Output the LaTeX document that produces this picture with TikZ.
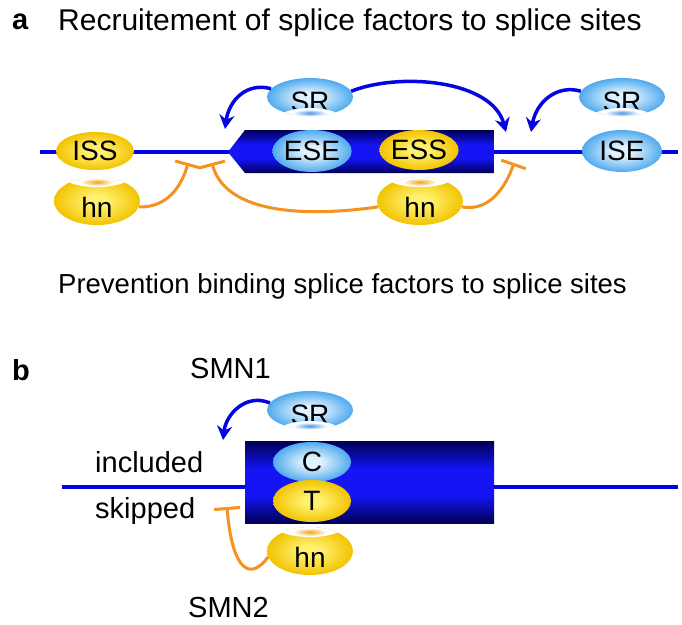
\documentclass[tikz,border=0pt]{standalone}
\usepackage{fontspec}
\setmainfont{Liberation Sans}
\usetikzlibrary{shapes.geometric,arrows.meta}
\definecolor{dnablue}{RGB}{5,5,225}
\definecolor{exnavy}{RGB}{0,0,85}
\definecolor{exbright}{RGB}{20,20,245}
\definecolor{inhorange}{RGB}{245,145,30}
\definecolor{yelin}{RGB}{255,240,110}
\definecolor{yelout}{RGB}{242,195,0}
\definecolor{bluin}{RGB}{225,242,255}
\definecolor{bluout}{RGB}{80,170,238}
\definecolor{orglowc}{RGB}{240,165,20}
\definecolor{bluglowc}{RGB}{70,150,235}
\pgfdeclareradialshading{yelshade}{\pgfpoint{0bp}{0bp}}{color(0bp)=(yelin); color(6bp)=(yelin); color(25bp)=(yelout); color(50bp)=(yelout)}
\pgfdeclareradialshading{blushade}{\pgfpoint{0bp}{0bp}}{color(0bp)=(bluin); color(6bp)=(bluin); color(25bp)=(bluout); color(50bp)=(bluout)}
\pgfdeclareradialshading{orglow}{\pgfpoint{0bp}{0bp}}{color(0bp)=(orglowc); color(25bp)=(white); color(50bp)=(white)}
\pgfdeclareradialshading{bluglow}{\pgfpoint{0bp}{0bp}}{color(0bp)=(bluglowc); color(25bp)=(white); color(50bp)=(white)}
\pgfdeclareverticalshading{exonshade}{100bp}{color(0bp)=(exnavy); color(25bp)=(exnavy); color(42bp)=(exbright); color(58bp)=(exbright); color(75bp)=(exnavy); color(100bp)=(exnavy)}

\newcommand\hnprot[3]{%
  \node[ellipse, shade, shading=yelshade, minimum width=86pt, minimum height=48pt] (#1) at (#2,#3) {};
  \begin{scope}
    \clip (#2,#3) ellipse [x radius=43pt, y radius=24pt];
    \fill[white] (#2,#3-24) ellipse [x radius=33pt, y radius=10pt];
  \end{scope}
  \shade[shading=orglow] (#2,#3-19) ellipse [x radius=17pt, y radius=4pt];
  \node (#1t) at (#2,#3+6) {hn};
}
\newcommand\srprot[3]{%
  \node[ellipse, shade, shading=blushade, minimum width=86pt, minimum height=38pt] (#1) at (#2,#3) {};
  \node (#1t) at (#2,#3+5) {SR};
  \begin{scope}
    \clip (#2,#3) ellipse [x radius=43pt, y radius=19pt];
    \fill[white] (#2,#3+22) ellipse [x radius=32pt, y radius=11pt];
  \end{scope}
  \shade[shading=bluglow] (#2,#3+16) ellipse [x radius=17pt, y radius=3.5pt];
}

\begin{document}
\begin{tikzpicture}[x=1pt,y=-1pt,
  every node/.style={font=\fontsize{28}{32}\selectfont, inner sep=0pt},
  dna/.style={dnablue, line width=3.5pt},
  recruit/.style={dnablue, line width=3.5pt, -{Stealth[length=14pt,width=15pt]}},
  inhibit/.style={inhorange, line width=3pt, -{Bar[width=26pt]}},
  yelell/.style={ellipse, shade, shading=yelshade},
  bluell/.style={ellipse, shade, shading=blushade}]
\useasboundingbox (0,0) rectangle (682,624);

% ---------- part a ----------
\node[anchor=base west, font=\bfseries\fontsize{29}{32}\selectfont] (la) at (12,29) {a};
\node[anchor=base west, font=\fontsize{30}{34}\selectfont] (ta) at (58,30) {Recruitement of splice factors to splice sites};

\coordinate (a0) at (40,152);
\coordinate (a1) at (678,152);
\draw[dna] (a0) -- (a1);
\shade[shading=exonshade] (228,152) -- (245,130) -- (494,130) -- (494,173) -- (245,173) -- cycle;

\node[yelell, minimum width=78pt, minimum height=38pt] (ISS) at (95,151) {ISS};
\node[bluell, minimum width=78pt, minimum height=42pt] (ESE) at (312,151) {ESE};
\node[yelell, minimum width=78pt, minimum height=40pt] (ESS) at (419,150) {ESS};
\node[bluell, minimum width=80pt, minimum height=42pt] (ISE) at (622,151) {ISE};

\srprot{SRa}{310}{97}
\srprot{SRc}{622}{97}
\hnprot{hnA}{97}{201}
\hnprot{hnB}{420}{201}

\coordinate (tipL) at (225,129);
\coordinate (tipR) at (506,132);
\coordinate (tipR2) at (531,132);
\draw[recruit] (SRa.168) .. controls (247,82) and (229,100) .. (tipL);
\draw[recruit] (SRa.8) .. controls (400,72) and (492,80) .. (tipR);
\draw[recruit] (SRc.172) .. controls (556,84) and (536,103) .. (tipR2);

\coordinate (barL) at (188,163);
\coordinate (barR) at (212,163);
\coordinate (barE) at (514,163);
\draw[inhibit] (hnA.-8) .. controls (168,208) and (182,185) .. (barL);
\draw[inhibit] (hnB.188) .. controls (300,218) and (225,212) .. (barR);
\draw[inhibit] (hnB.-8) .. controls (490,212) and (506,186) .. (barE);

\node[anchor=base west, font=\fontsize{27.5}{32}\selectfont] (tp) at (58,293) {Prevention binding splice factors to splice sites};

% ---------- part b ----------
\node[anchor=base west, font=\bfseries\fontsize{29}{32}\selectfont] (lb) at (12,380) {b};
\node[anchor=base west, font=\fontsize{29}{32}\selectfont] (smn1) at (190,378) {SMN1};

\coordinate (b0) at (62,487);
\coordinate (b1) at (678,487);
\draw[dna] (b0) -- (b1);
\node[shade, shading=exonshade, minimum width=249pt, minimum height=82pt, anchor=north west] (exB) at (245,441) {};

\srprot{SRd}{310}{410}
\node[bluell, minimum width=78pt, minimum height=40pt] (C) at (312,462) {C};
\node[yelell, minimum width=78pt, minimum height=42pt] (T) at (312,501) {T};
\hnprot{hnD}{310}{551}

\coordinate (tipB) at (223,440);
\draw[recruit] (SRd.170) .. controls (246,393) and (226,414) .. (tipB);
\coordinate (barB) at (227,507);
\draw[inhibit] (hnD.188) .. controls (250,582) and (232,570) .. (barB);

\node[anchor=base west, font=\fontsize{29}{32}\selectfont] (inc) at (95,472) {included};
\node[anchor=base west, font=\fontsize{29}{32}\selectfont] (skp) at (95,518) {skipped};
\node[anchor=base west, font=\fontsize{29}{32}\selectfont] (smn2) at (188,617) {SMN2};
\end{tikzpicture}
\end{document}
